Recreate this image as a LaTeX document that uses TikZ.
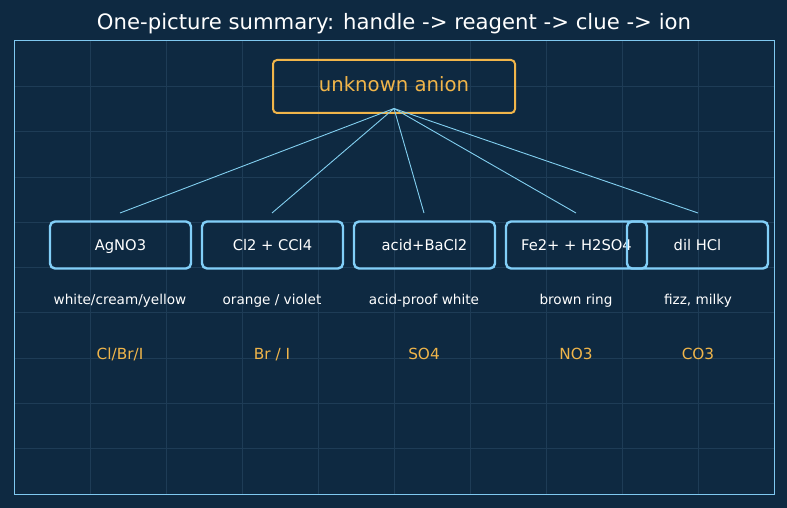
\documentclass[tikz,border=0pt]{standalone}
\usepackage{fontspec}
\setmainfont{DejaVu Sans}
\definecolor{bg}{HTML}{0E2941}
\definecolor{gridc}{HTML}{1E3C56}
\definecolor{framec}{HTML}{7FC8F0}
\definecolor{orng}{HTML}{F0B54A}
\definecolor{boxc}{HTML}{82CFF8}
\definecolor{linec}{HTML}{82CFF0}
\tikzset{
  rootbox/.style={draw=orng, line width=2pt, rounded corners=4pt, minimum width=242pt, minimum height=53pt},
  reagbox/.style={draw=boxc, line width=2.4pt, rounded corners=5pt, minimum width=141pt, minimum height=47pt},
  reagtxt/.style={anchor=base, inner sep=0pt, text=white, font=\fontsize{14.7}{17}\selectfont},
  cluetxt/.style={anchor=base, inner sep=0pt, text=white, font=\fontsize{13.6}{16}\selectfont},
  iontxt/.style={anchor=base, inner sep=0pt, text=orng, font=\fontsize{15.3}{18}\selectfont},
  conn/.style={draw=linec, line width=0.9pt}
}
\begin{document}
\begin{tikzpicture}[x=1pt,y=-1pt]
\useasboundingbox (0,0) rectangle (787,508);
\fill[bg] (0,0) rectangle (787,508);
\foreach \i in {1,...,9} {
  \draw[gridc, line width=0.8pt] (14+76*\i,41) -- (14+76*\i,494);
  \draw[gridc, line width=0.8pt] (14,41+45.3*\i) -- (774,41+45.3*\i);
}
\draw[framec, line width=1pt] (14,41) rectangle (774,494);
\node[anchor=base, inner sep=0pt, text=white, font=\fontsize{21.2}{24}\selectfont] (title) at (394,30) {One-picture summary: handle -> reagent -> clue -> ion};
\node[rootbox] (root) at (394,86.5) {};
\node[anchor=base, inner sep=0pt, text=orng, font=\fontsize{19.7}{22}\selectfont] (rootlbl) at (394,92) {unknown anion};
\coordinate (apex) at (394,108.5);
\foreach \k/\x/\t in {1/120.5/AgNO3, 2/272.5/Cl2 + CCl4, 3/424.5/acid+BaCl2, 4/576.5/Fe2+ + H2SO4, 5/697.5/dil HCl} {
  \node[reagbox] (r\k) at (\x,245) {};
  \node[reagtxt] (rl\k) at (\x,250) {\t};
}
\foreach \k/\x in {1/120,2/272,3/424,4/576,5/698} {
  \coordinate (t\k) at (\x,213);
  \draw[conn] (apex) -- (t\k);
}
\node[cluetxt] (c1) at (120,304.3) {white/cream/yellow};
\node[cluetxt] (c2) at (272,304.3) {orange / violet};
\node[cluetxt] (c3) at (424,304.3) {acid-proof white};
\node[cluetxt] (c4) at (576,304.3) {brown ring};
\node[cluetxt] (c5) at (698,304.3) {fizz, milky};
\node[iontxt] (i1) at (120,359.3) {Cl/Br/I};
\node[iontxt] (i2) at (272,359.3) {Br / I};
\node[iontxt] (i3) at (424,359.3) {SO4};
\node[iontxt] (i4) at (576,359.3) {NO3};
\node[iontxt] (i5) at (698,359.3) {CO3};
\end{tikzpicture}
\end{document}
